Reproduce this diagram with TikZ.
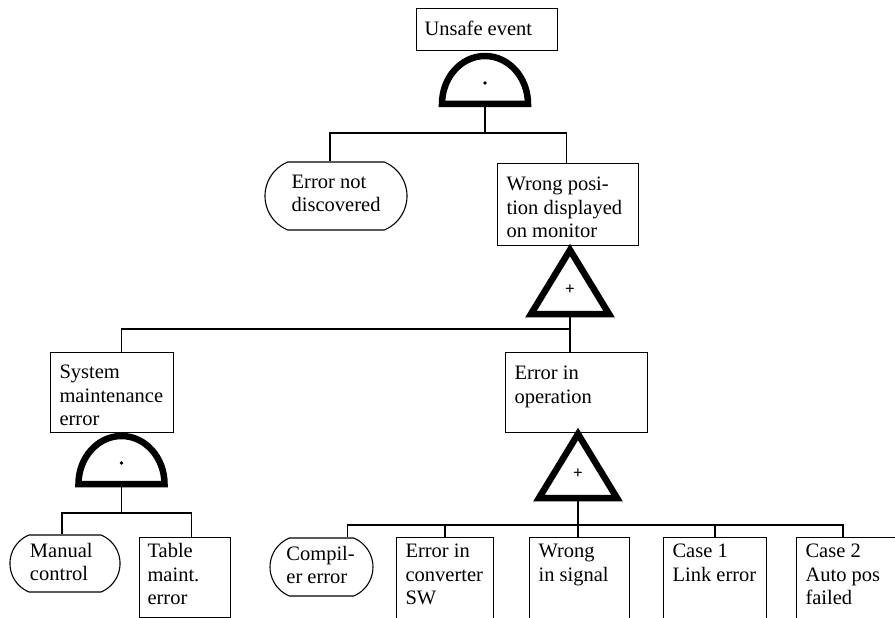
\documentclass[tikz,border=0pt]{standalone}
\usepackage{fontspec}
\setmainfont{Liberation Serif}
\usetikzlibrary{shapes.misc}
% #1 first-baseline drop, #2 left indent, #3 width, #4 height, #5 text
\newcommand\tb[5]{\parbox[c][#4][t]{#3}{\raggedright\leftskip=#2\rule{0pt}{#1}#5}}

\begin{document}
\begin{tikzpicture}[x=1pt,y=-1pt,
  font=\fontsize{20.5}{23.5}\selectfont,
  evbox/.style={draw,line width=1.1pt,inner sep=0pt,anchor=north west},
  basic/.style={draw,line width=1.1pt,inner sep=0pt,rounded rectangle,rounded rectangle arc length=135},
  wire/.style={line width=1.3pt},
  gate/.style={line width=6.5pt,line join=miter},
  andgate/.pic={
    \draw[gate] (-43,0) arc[start angle=180,end angle=360,x radius=43,y radius=48] -- cycle;
    \fill (0,-21) circle (1.8);
    \coordinate (-out) at (0,0);},
  orgate/.pic={
    \draw[gate] (0,-64) -- (-39,0) -- (39,0) -- cycle;
    \node[font=\fontsize{17}{17}\selectfont\bfseries] (-sign) at (0,-24) {+};
    \coordinate (-out) at (0,0);}
]
\useasboundingbox (0,0) rectangle (895,618);

% events
\node[evbox] (unsafe) at (416,8) {\tb{27pt}{8pt}{141pt}{42pt}{Unsafe event}};
\node[basic] (notdisc) at (336,196) {\tb{26pt}{4pt}{96.6pt}{68pt}{Error not\\discovered}};
\node[evbox] (wrongpos) at (497,163) {\tb{27pt}{9pt}{141pt}{82pt}{\mbox{Wrong posi-}\\tion displayed\\on monitor}};
\node[evbox] (sysbox) at (50,352) {\tb{26pt}{9pt}{123pt}{80pt}{System\\maintenance\\error}};
\node[evbox] (errop) at (505,352) {\tb{27pt}{9pt}{142pt}{80pt}{Error in\\operation}};

\node[basic] (manual) at (65,563.5) {\tb{22pt}{1pt}{72pt}{57pt}{Manual\\control}};
\node[evbox] (table) at (139,537) {\tb{20pt}{8pt}{91pt}{80pt}{Table\\maint.\\error}};
\node[basic] (compiler) at (321.5,567) {\tb{22pt}{-3pt}{64.2pt}{58pt}{\mbox{Compil-}\\\mbox{er error}}};
\node[evbox] (conv) at (396,537) {\tb{20pt}{9pt}{97pt}{90pt}{Error in\\converter\\SW}};
\node[evbox] (signal) at (529,537) {\tb{20pt}{9pt}{100pt}{90pt}{Wrong\\in signal}};
\node[evbox] (case1) at (663,537) {\tb{20pt}{9pt}{103pt}{90pt}{Case 1\\Link error}};
\node[evbox] (case2) at (796,537) {\tb{20pt}{9pt}{110pt}{90pt}{Case 2\\Auto pos\\failed}};

% gates
\pic (g1) at (485,104) {andgate};
\pic (or1) at (570,314) {orgate};
\pic (g3) at (121.5,484) {andgate};
\pic (or2) at (578,498) {orgate};

% connectors
\coordinate (bar1) at (485,133);
\draw[wire] (g1-out) -- (bar1);
\draw[wire] (bar1) -| ([xshift=-6pt]notdisc.north);
\draw[wire] (bar1) -| ([xshift=-1.5pt]wrongpos.north);

\coordinate (bar2) at (570,329);
\draw[wire] (or1-out) -- (errop.north -| or1-out);
\draw[wire] (bar2) -| (sysbox.north -| g3-out);

\coordinate (bar4) at (121.5,513);
\draw[wire] (g3-out) -- (bar4);
\draw[wire] (bar4) -| ([xshift=-3pt]manual.north);
\draw[wire] (bar4) -| ([xshift=6.5pt]table.north);

\coordinate (bar3) at (578,525);
\draw[wire] (or2-out) -- (signal.north -| or2-out);
\draw[wire] (bar3) -| ([xshift=26pt]compiler.north);
\draw[wire] (bar3) -| (conv.north);
\draw[wire] (bar3) -| (case1.north);
\draw[wire] (bar3) -| ([xshift=47pt]case2.north west);
\end{tikzpicture}
\end{document}
